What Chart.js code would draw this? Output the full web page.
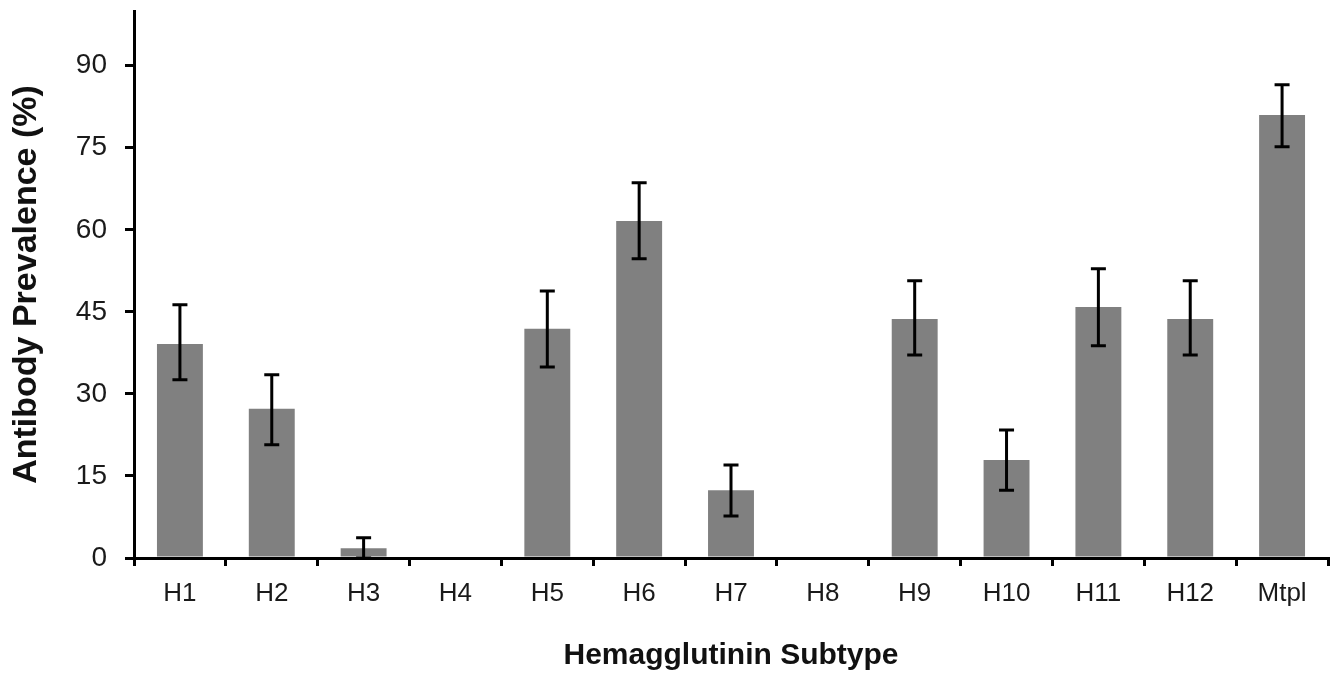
<!DOCTYPE html>
<html>
<head>
<meta charset="utf-8">
<script src="https://cdn.jsdelivr.net/npm/chart.js@4.4.1/dist/chart.umd.min.js"></script>
<style>
html,body{margin:0;padding:0;background:#fff;}
#wrap{width:1339px;height:677px;}
</style>
</head>
<body>
<div id="wrap"><canvas id="c" width="1339" height="677"></canvas></div>
<script>
const categories = ['H1','H2','H3','H4','H5','H6','H7','H8','H9','H10','H11','H12','Mtpl'];
const prevalence = [39.1, 27.3, 1.8, 0, 41.9, 61.6, 12.4, 0, 43.7, 17.9, 45.9, 43.7, 81.0];
const errUpper   = [46.3, 33.5, 3.7, 0, 48.8, 68.6, 17.0, 0, 50.7, 23.4, 52.9, 50.7, 86.5];
const errLower   = [32.6, 20.7, 0.0, 0, 34.9, 54.7, 7.7, 0, 37.1, 12.4, 38.8, 37.1, 75.2];
const yTicks = [0, 15, 30, 45, 60, 75, 90];

const errorBars = {
  id: 'errorBars',
  afterDatasetsDraw(chart) {
    const meta = chart.getDatasetMeta(0);
    const ys = chart.scales.y;
    const ctx = chart.ctx;
    ctx.save();
    ctx.strokeStyle = '#000';
    ctx.lineWidth = 3;
    meta.data.forEach((bar, i) => {
      if (errUpper[i] === 0 && errLower[i] === 0) return;
      const x = bar.x;
      const yt = ys.getPixelForValue(errUpper[i]);
      const yb = ys.getPixelForValue(errLower[i]);
      const cap = 7.5;
      ctx.beginPath();
      ctx.moveTo(x, yt); ctx.lineTo(x, yb);
      ctx.moveTo(x - cap, yt); ctx.lineTo(x + cap, yt);
      ctx.moveTo(x - cap, yb); ctx.lineTo(x + cap, yb);
      ctx.stroke();
    });
    ctx.restore();
  }
};

new Chart(document.getElementById('c'), {
  type: 'bar',
  data: {
    labels: categories,
    datasets: [{
      data: prevalence,
      backgroundColor: '#808080',
      borderWidth: 0,
      categoryPercentage: 1,
      barPercentage: 0.5
    }]
  },
  options: {
    responsive: false,
    animation: false,
    layout: { padding: { top: 11, right: 11, left: 0, bottom: 0 } },
    plugins: { legend: { display: false }, tooltip: { enabled: false } },
    scales: {
      x: {
        offset: true,
        grid: { display: true, drawOnChartArea: false, offset: true, color: '#000', lineWidth: 3, tickLength: 8 },
        border: { display: true, color: '#000', width: 3 },
        ticks: { color: '#1a1a1a', font: { family: 'Liberation Sans, Arial', size: 26 }, padding: 12, maxRotation: 0 },
        title: { display: true, text: 'Hemagglutinin Subtype', color: '#111', font: { family: 'Liberation Sans, Arial', size: 30, weight: 'bold' }, padding: { top: 0, bottom: 3 } },
        afterFit(s) { s.height = 119; s.paddingLeft = 0; s.paddingRight = 0; }
      },
      y: {
        min: 0, max: 100,
        afterBuildTicks(s) { s.ticks = yTicks.map(v => ({ value: v })); },
        grid: { display: true, drawOnChartArea: false, color: '#000', lineWidth: 3, tickLength: 9 },
        border: { display: true, color: '#000', width: 3 },
        ticks: { color: '#1a1a1a', font: { family: 'Liberation Sans, Arial', size: 28 }, padding: 18 },
        title: { display: true, text: 'Antibody Prevalence (%)', color: '#111', font: { family: 'Liberation Sans, Arial', size: 34, weight: 'bold' }, padding: { top: 6, bottom: 0 } },
        afterFit(s) { s.width = 134; s.paddingTop = 0; s.paddingBottom = 0; }
      }
    }
  },
  plugins: [errorBars]
});
</script>
</body>
</html>
